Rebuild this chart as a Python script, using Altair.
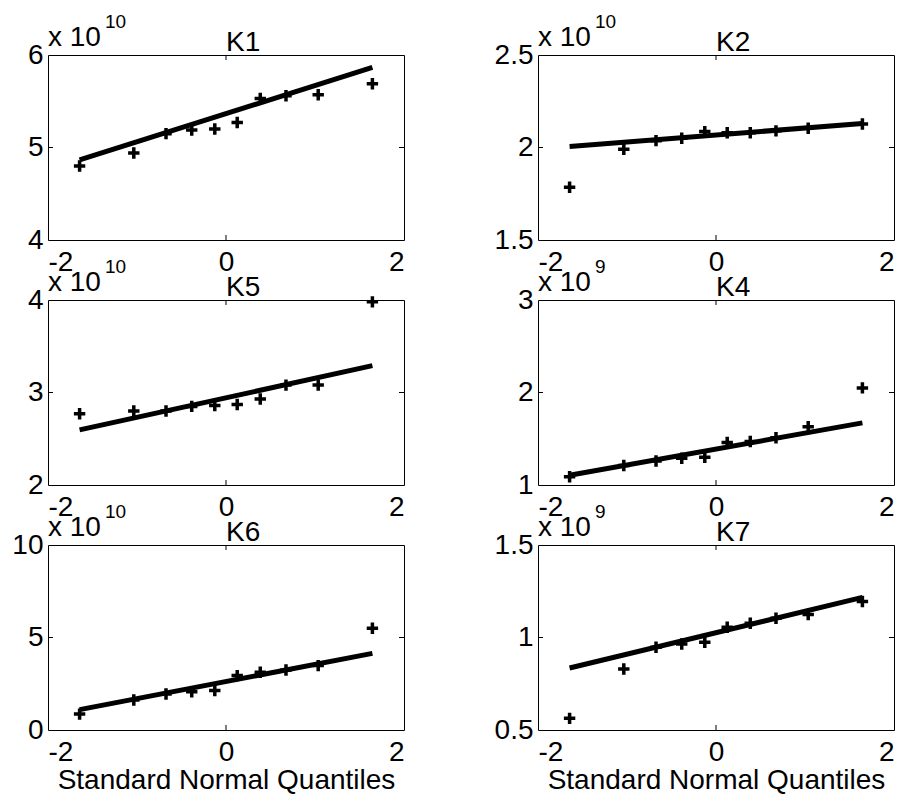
import altair as alt
import pandas as pd

# Standard normal quantiles (x positions of the 10 points)
qx = [-1.645, -1.036, -0.674, -0.385, -0.126, 0.126, 0.385, 0.674, 1.036, 1.645]

names = ["K1", "K2", "K5", "K4", "K6", "K7"]
exponents = ["10", "10", "10", "9", "10", "9"]

k1 = [4.80, 4.94, 5.15, 5.19, 5.20, 5.27, 5.53, 5.56, 5.57, 5.69]
k2 = [1.785, 1.99, 2.037, 2.05, 2.086, 2.08, 2.08, 2.09, 2.104, 2.127]
k5 = [2.77, 2.80, 2.80, 2.85, 2.86, 2.87, 2.93, 3.08, 3.08, 3.98]
k4 = [1.09, 1.21, 1.26, 1.29, 1.30, 1.46, 1.47, 1.51, 1.63, 2.05]
k6 = [0.86, 1.62, 1.95, 2.07, 2.13, 2.94, 3.12, 3.24, 3.48, 5.50]
k7 = [0.563, 0.83, 0.947, 0.965, 0.974, 1.055, 1.077, 1.104, 1.124, 1.195]
series = [k1, k2, k5, k4, k6, k7]

# Reference-line end values at x = -1.645 and x = 1.645
line_x = [-1.645, 1.645]
line_y = [[4.865, 5.867], [2.005, 2.13], [2.596, 3.29],
          [1.105, 1.672], [1.10, 4.14], [0.835, 1.217]]

y_ticks = [[4, 5, 6], [1.5, 2, 2.5], [2, 3, 4], [1, 2, 3], [0, 5, 10], [0.5, 1, 1.5]]
x_ticks = [-2, 0, 2]

W, H = 356, 185
FONT = "Liberation Sans"
FS = 28

plus = "M-1,0H1M0,-1V1"


def panel(i):
    name = names[i]
    yt = y_ticks[i]
    bottom = i >= 4
    pts = pd.DataFrame({"q": qx, "v": series[i]})
    ln = pd.DataFrame({"q": line_x, "v": line_y[i]})

    xscale = alt.Scale(domain=[x_ticks[0], x_ticks[-1]], nice=False, zero=False)
    yscale = alt.Scale(domain=[yt[0], yt[-1]], nice=False, zero=False)
    xaxis = alt.Axis(values=x_ticks, ticks=False, domain=False, grid=False,
                     labelFontSize=FS, labelFont=FONT, labelColor="black",
                     labelPadding=8, labelExpr="'' + datum.value",
                     title="Standard Normal Quantiles" if bottom else None,
                     titleFontSize=FS, titleFont=FONT, titleFontWeight="normal",
                     titleColor="black", titlePadding=0)
    yaxis = alt.Axis(values=yt, ticks=False, domain=False, grid=False,
                     labelExpr="'' + datum.value",
                     labelFontSize=FS, labelFont=FONT, labelColor="black",
                     labelPadding=5, labelBaseline="middle", title=None,
                     minExtent=39, maxExtent=39)

    line = alt.Chart(ln).mark_line(color="black", strokeWidth=5, strokeCap="butt").encode(
        x=alt.X("q:Q", scale=xscale, axis=xaxis),
        y=alt.Y("v:Q", scale=yscale, axis=yaxis),
    )
    points = alt.Chart(pts).mark_point(shape=plus, size=130, strokeWidth=3.5,
                                       color="black", filled=False, opacity=1).encode(
        x=alt.X("q:Q", scale=xscale),
        y=alt.Y("v:Q", scale=yscale),
    )
    one = pd.DataFrame({"k": [0]})
    tick_top = alt.Chart(one).mark_rule(color="black", strokeWidth=1).encode(
        x=alt.datum(0), y=alt.value(0), y2=alt.value(5))
    tick_bot = alt.Chart(one).mark_rule(color="black", strokeWidth=1).encode(
        x=alt.datum(0), y=alt.value(H - 5), y2=alt.value(H))
    tick_left = alt.Chart(one).mark_rule(color="black", strokeWidth=1).encode(
        y=alt.datum(yt[1]), x=alt.value(0), x2=alt.value(5))
    tick_right = alt.Chart(one).mark_rule(color="black", strokeWidth=1).encode(
        y=alt.datum(yt[1]), x=alt.value(W - 5), x2=alt.value(W))
    exp_base = alt.Chart(one).mark_text(align="left", baseline="alphabetic", fontSize=FS,
                                        font=FONT, color="black").encode(
        x=alt.value(0), y=alt.value(-9), text=alt.value("x 10"))
    exp_sup = alt.Chart(one).mark_text(align="left", baseline="alphabetic", fontSize=19,
                                       font=FONT, color="black").encode(
        x=alt.value(57), y=alt.value(-27), text=alt.value(exponents[i]))
    title = alt.Chart(one).mark_text(align="left", baseline="alphabetic", fontSize=FS,
                                     font=FONT, color="black").encode(
        x=alt.value(W / 2), y=alt.value(-4), text=alt.value(name))

    return alt.layer(line, points, tick_top, tick_bot, tick_left, tick_right,
                     exp_base, exp_sup, title).properties(width=W, height=H)


chart = alt.concat(*[panel(i) for i in range(6)], columns=2,
                   spacing={"row": 60, "column": 134}, bounds="flush").properties(
    padding={"left": 0, "top": 4, "right": 0, "bottom": 0}
).configure(background="white").configure_view(stroke="black", strokeWidth=1)

chart.save("out.html", embed_options={"renderer": "svg", "actions": False})
